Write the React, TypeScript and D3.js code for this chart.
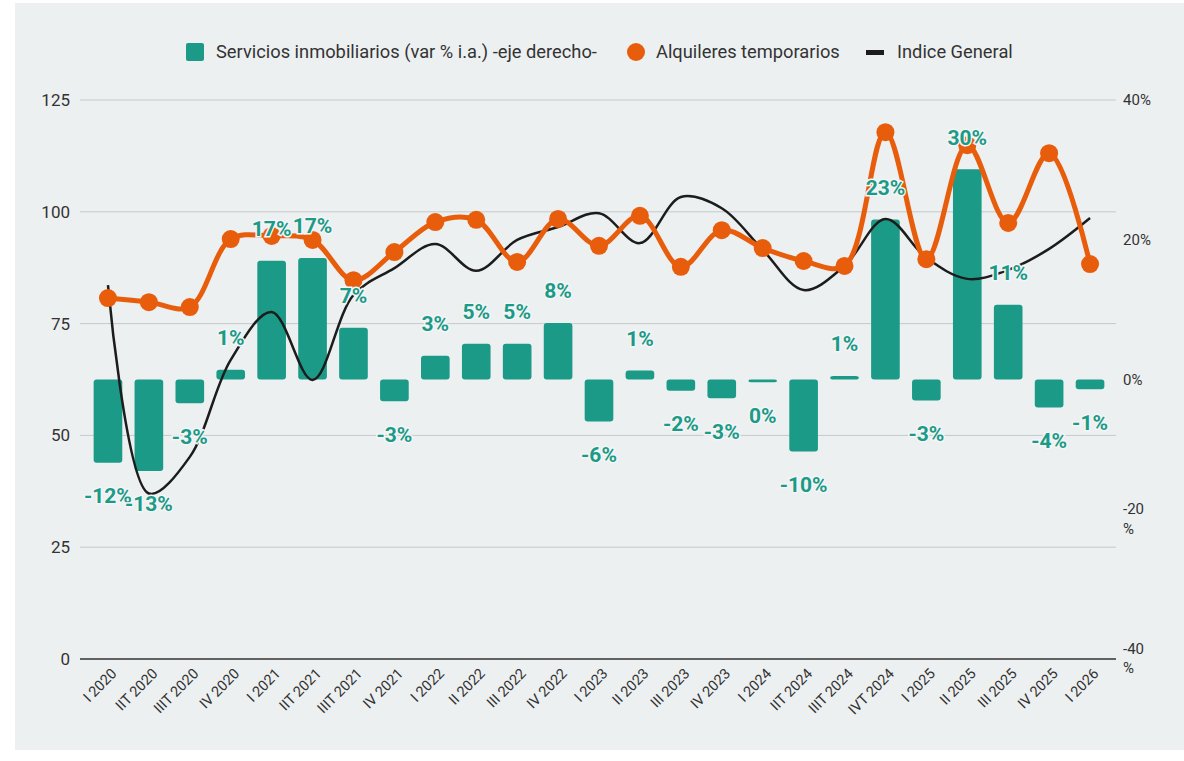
import React from 'react';
import * as d3 from 'd3';

const categories = [
  'I 2020', 'IIT 2020', 'IIIT 2020', 'IV 2020', 'I 2021', 'IIT 2021', 'IIIT 2021', 'IV 2021',
  'I 2022', 'II 2022', 'III 2022', 'IV 2022', 'I 2023', 'II 2023', 'III 2023', 'IV 2023',
  'I 2024', 'IIT 2024', 'IIIT 2024', 'IVT 2024', 'I 2025', 'II 2025', 'III 2025', 'IV 2025', 'I 2026',
];

// Servicios inmobiliarios (var % i.a.) - eje derecho
const servicios = [
  -11.9, -13.1, -3.4, 1.4, 17.0, 17.4, 7.4, -3.1, 3.4, 5.1, 5.1, 8.1, -6.0,
  1.3, -1.6, -2.7, -0.4, -10.3, 0.5, 22.9, -3.0, 30.1, 10.7, -4.0, -1.4,
];

// Alquileres temporarios - eje izquierdo
const alquileres = [
  80.7, 79.8, 78.7, 93.9, 94.6, 93.7, 84.7, 91.0, 97.7, 98.2, 88.8, 98.4, 92.4,
  99.1, 87.7, 95.9, 91.9, 89.0, 87.9, 117.8, 89.4, 114.9, 97.5, 113.1, 88.3,
];

// Indice General - eje izquierdo
const indiceGeneral = [
  83.6, 37.0, 45.2, 66.9, 77.6, 62.4, 81.4, 87.4, 92.8, 86.8, 93.7, 96.6, 99.7,
  93.0, 103.3, 100.8, 91.5, 82.5, 87.9, 98.4, 89.7, 85.0, 87.0, 91.7, 98.6,
];

const leftTicks = [0, 25, 50, 75, 100, 125];
const rightTicks = [-40, -20, 0, 20, 40];

const TEAL = '#1b9a87';
const ORANGE = '#e85d0c';
const DARK = '#1c1c1c';
const BG = '#edf0f1';
const FONT = 'Roboto, sans-serif';

const App = () => {
  const x = d3
    .scaleBand()
    .domain(categories)
    .range([87.5, 1110.5])
    .paddingInner(0.3)
    .paddingOuter(0.15);
  const yLeft = d3.scaleLinear().domain([0, 125]).range([659, 100]);
  const yRight = d3.scaleLinear().domain([-40, 40]).range([659, 100]);
  const cx = (i) => x(categories[i]) + x.bandwidth() / 2;

  const line = d3
    .line()
    .x((d, i) => cx(i))
    .y((d) => yLeft(d))
    .curve(d3.curveCatmullRom.alpha(0.5));

  return (
    <svg width={1184} height={761} style={{ position: 'absolute', left: 0, top: 0 }} fontFamily={FONT}>
      <rect width={1184} height={761} fill='#ffffff' />
      <rect x={15} y={3} width={1169} height={747} fill={BG} />

      {/* leyenda */}
      <g fontSize={18.3} fill='#333'>
        <rect x={186} y={43} width={18} height={18} rx={2} fill={TEAL} />
        <text x={216} y={52} dy='0.35em'>Servicios inmobiliarios (var % i.a.) -eje derecho-</text>
        <circle cx={636} cy={52} r={9} fill={ORANGE} />
        <text x={656} y={52} dy='0.35em'>Alquileres temporarios</text>
        <rect x={866} y={50} width={18} height={5} fill={DARK} />
        <text x={897} y={52} dy='0.35em'>Indice General</text>
      </g>

      {/* grilla y eje izquierdo */}
      {leftTicks.map((t) => (
        <g key={t}>
          <line
            x1={80}
            x2={1116}
            y1={yLeft(t)}
            y2={yLeft(t)}
            stroke={t === 0 ? '#333' : '#c6c9cb'}
            strokeWidth={t === 0 ? 1.5 : 1}
          />
          <text x={70} y={yLeft(t)} dy='0.35em' textAnchor='end' fontSize={17} fill='#333'>
            {t}
          </text>
        </g>
      ))}

      {/* eje derecho */}
      {rightTicks.map((t) =>
        t < 0 ? (
          <text key={t} x={1123} y={yRight(t)} fontSize={15} fill='#333'>
            <tspan x={1123} dy='-0.35em'>{t}</tspan>
            <tspan x={1123} dy='1.3em'>%</tspan>
          </text>
        ) : (
          <text key={t} x={1123} y={yRight(t)} dy='0.35em' fontSize={15} fill='#333'>
            {t}%
          </text>
        )
      )}

      {/* eje x */}
      {categories.map((c, i) => (
        <text
          key={c}
          transform={`translate(${cx(i) + 6},${671}) rotate(-45)`}
          textAnchor='end'
          dy='0.35em'
          fontSize={14.5}
          fill='#333'
        >
          {c}
        </text>
      ))}

      {/* barras */}
      {servicios.map((v, i) => (
        <rect
          key={i}
          x={x(categories[i])}
          y={yRight(Math.max(0, v))}
          width={x.bandwidth()}
          height={Math.max(2, Math.abs(yRight(v) - yRight(0)))}
          rx={3}
          fill={TEAL}
        />
      ))}

      <path d={line(indiceGeneral)} fill='none' stroke={DARK} strokeWidth={2.5} />
      <path d={line(alquileres)} fill='none' stroke={ORANGE} strokeWidth={5} />
      {alquileres.map((v, i) => (
        <circle key={i} cx={cx(i)} cy={yLeft(v)} r={9} fill={ORANGE} />
      ))}

      {/* etiquetas */}
      {servicios.map((v, i) => (
        <text
          key={i}
          x={cx(i)}
          y={v >= 0 ? yRight(v) - 32 : yRight(v) + 33}
          dy='0.35em'
          textAnchor='middle'
          fontSize={21}
          fontWeight='bold'
          fill={TEAL}
          stroke='#f3f5f6'
          strokeWidth={3}
          paintOrder='stroke'
        >
          {`${Math.round(v)}%`}
        </text>
      ))}
    </svg>
  );
};

export default App;
